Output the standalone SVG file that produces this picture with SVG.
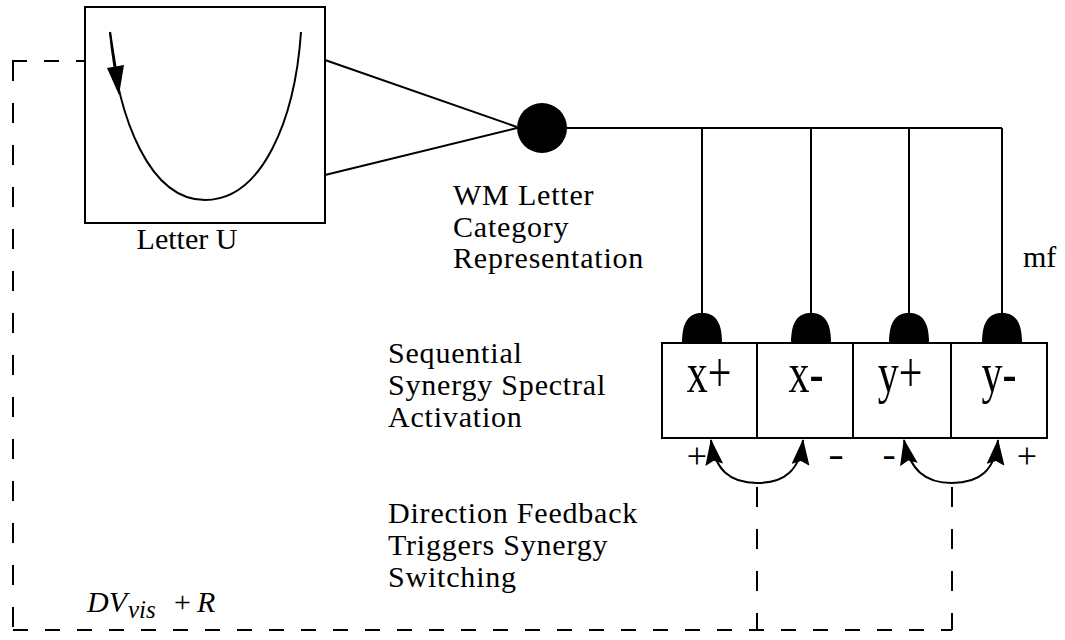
<svg xmlns="http://www.w3.org/2000/svg" width="1065" height="640" viewBox="0 0 1065 640">
<style>
.ln{fill:none;stroke:#000;stroke-width:2}
.box{fill:#fff;stroke:#000;stroke-width:2}
.dh{fill:none;stroke:#000;stroke-width:2;stroke-dasharray:15 17}
.dv{fill:none;stroke:#000;stroke-width:2;stroke-dasharray:20 22}
.bump{fill:#000}
text{font-family:'Liberation Serif',serif;fill:#000}
.t{font-size:30px}
.lab{font-size:30px;letter-spacing:0.8px}
.big{font-size:42px;text-anchor:middle}
.sg{font-size:36px;text-anchor:middle}
</style>
<defs>
<marker id="ah" viewBox="0 0 26 18" refX="25" refY="9" markerWidth="26" markerHeight="18" markerUnits="userSpaceOnUse" orient="auto-start-reverse">
<path d="M0,0 L26,9 L0,18 L4,9 Z" fill="#000"/>
</marker>
</defs>
<rect width="1065" height="640" fill="#fff"/>

<g id="connectors">
<path class="dh" d="M12,61 H115"/>
<path class="dv" d="M13,61 V630"/>
<path class="dh" d="M13,630 H952"/>
<path class="dv" d="M757,487 V630"/>
<path class="dv" d="M952,487 V630"/>
<path class="ln" d="M325,60 L517,127 M325,175 L517,128"/>
<path class="ln" d="M542,128 H1002"/>
<path class="ln" d="M702,128 V315 M811,128 V315 M909,128 V315 M1002,128 V315"/>
<path class="ln" marker-start="url(#ah)" marker-end="url(#ah)" d="M711,440 C715,470 730,483 757,483 C785,483 800,470 803,440"/>
<path class="ln" marker-start="url(#ah)" marker-end="url(#ah)" d="M904,440 C910,470 925,483 952,483 C980,483 995,470 998,440"/>
</g>

<g id="letter-u">
<rect class="box" x="85" y="7" width="240" height="216"/>
<path class="ln" d="M110,32 C118,120 150,200 205,200 C262,200 295,120 301,32"/>
<path class="ln" d="M110,32 L116,70"/>
<path d="M107,68 L124,65 L119,95 Z" fill="#000"/>
<text class="t" x="187" y="249" text-anchor="middle" font-family="Liberation Serif">Letter U</text>
</g>

<g id="wm-letter">
<circle cx="542" cy="128" r="25" fill="#000"/>
<text class="lab" x="453" y="205" font-family="Liberation Serif">WM Letter</text>
<text class="lab" x="453" y="237" font-family="Liberation Serif">Category</text>
<text class="lab" x="453" y="268" font-family="Liberation Serif">Representation</text>
</g>

<g id="label-mf">
<text class="t" x="1023" y="267" font-family="Liberation Serif">mf</text>
</g>

<g id="synergy-label">
<text class="lab" x="388" y="363" font-family="Liberation Serif">Sequential</text>
<text class="lab" x="388" y="395" font-family="Liberation Serif">Synergy Spectral</text>
<text class="lab" x="388" y="427" font-family="Liberation Serif">Activation</text>
</g>

<g id="feedback-label">
<text class="lab" x="388" y="523" font-family="Liberation Serif">Direction Feedback</text>
<text class="lab" x="388" y="555" font-family="Liberation Serif">Triggers Synergy</text>
<text class="lab" x="388" y="587" font-family="Liberation Serif">Switching</text>
</g>

<g id="dv-label">
<text class="t" x="87" y="612" font-family="Liberation Serif"><tspan font-style="italic">DV</tspan><tspan font-style="italic" font-size="25" x="128" y="618">vis</tspan><tspan x="174" y="612">+</tspan><tspan font-style="italic" x="197" y="612">R</tspan></text>
</g>

<g id="node-xplus">
<rect class="box" x="662" y="343" width="95" height="95"/>
<path class="bump" d="M682,343 C682,320 690,313 702,313 C714,313 722,320 722,343 Z"/>
<text class="big" transform="translate(709,392) scale(1,1.35)" font-family="Liberation Serif">x+</text>
</g>
<g id="node-xminus">
<rect class="box" x="757" y="343" width="96" height="95"/>
<path class="bump" d="M791,343 C791,320 799,313 811,313 C823,313 831,320 831,343 Z"/>
<text class="big" transform="translate(806,392) scale(1,1.35)" font-family="Liberation Serif">x-</text>
</g>
<g id="node-yplus">
<rect class="box" x="853" y="343" width="98" height="95"/>
<path class="bump" d="M889,343 C889,320 897,313 909,313 C921,313 929,320 929,343 Z"/>
<text class="big" transform="translate(900,392) scale(1,1.35)" font-family="Liberation Serif">y+</text>
</g>
<g id="node-yminus">
<rect class="box" x="951" y="343" width="96" height="95"/>
<path class="bump" d="M982,343 C982,320 990,313 1002,313 C1014,313 1022,320 1022,343 Z"/>
<text class="big" transform="translate(999,392) scale(1,1.35)" font-family="Liberation Serif">y-</text>
</g>

<g id="signs">
<text class="sg" x="697" y="468" font-family="Liberation Serif">+</text>
<text class="sg" transform="translate(836,466) scale(1.3,1)" font-family="Liberation Serif">-</text>
<text class="sg" transform="translate(889,466) scale(1.1,1)" font-family="Liberation Serif">-</text>
<text class="sg" x="1027" y="468" font-family="Liberation Serif">+</text>
</g>
</svg>
